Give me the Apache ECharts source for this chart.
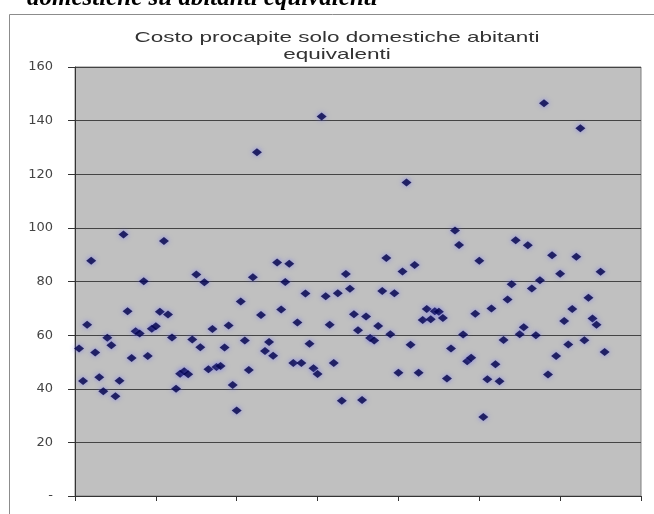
<!DOCTYPE html>
<html>
<head>
<meta charset="utf-8">
<script src="https://cdn.jsdelivr.net/npm/echarts@6/dist/echarts.min.js"></script>
<style>
  html, body { margin: 0; padding: 0; background: #fff; }
  #chart { width: 654px; height: 514px; }
</style>
</head>
<body>
<div id="chart"></div>
<script>
// costo procapite per abitante equivalente, one point per comune (x = progressive index)
const costo = [
  55.0, 42.9, 63.9, 87.7, 53.5, 44.3, 39.1, 59.0, 56.2, 37.2,
  43.0, 97.5, 68.9, 51.5, 61.4, 60.6, 80.1, 52.2, 62.4, 63.3,
  68.7, 95.1, 67.7, 59.1, 40.0, 45.6, 46.5, 45.4, 58.4, 82.6,
  55.5, 79.7, 47.3, 62.3, 48.1, 48.5, 55.4, 63.6, 41.4, 31.9,
  72.5, 58.0, 47.0, 81.6, 128.2, 67.5, 54.1, 57.4, 52.3, 87.1,
  69.6, 79.8, 86.6, 49.6, 64.7, 49.6, 75.5, 56.8, 47.6, 45.5,
  141.5, 74.5, 63.9, 49.6, 75.6, 35.5, 82.8, 77.3, 67.8, 61.8,
  35.8, 66.9, 58.9, 58.0, 63.4, 76.5, 88.8, 60.3, 75.6, 46.0,
  83.7, 116.9, 56.4, 86.2, 46.0, 65.6, 69.7, 65.9, 68.9, 68.7,
  66.4, 43.8, 55.0, 99.0, 93.6, 60.2, 50.3, 51.6, 68.0, 87.7,
  29.5, 43.5, 69.9, 49.1, 42.8, 58.2, 73.3, 79.0, 95.4, 60.3,
  62.9, 93.5, 77.4, 60.0, 80.5, 146.5, 45.3, 89.8, 52.2, 82.9,
  65.3, 56.5, 69.7, 89.2, 137.2, 58.1, 73.9, 66.2, 63.9, 83.6,
  53.7
];
const titleText = 'Costo procapite solo domestiche abitanti\nequivalenti';
const headingText = 'domestiche su abitanti equivalenti';

const points = costo.map((v, i) => [i + 1, v]);

const chart = echarts.init(document.getElementById('chart'));
chart.setOption({
  animation: false,
  backgroundColor: '#fff',
  graphic: [
    {
      type: 'rect',
      left: 7, top: 12,
      shape: { width: 700, height: 560 },
      style: { fill: 'none', stroke: '#8c8c8c', lineWidth: 1 },
      silent: true
    },
    {
      type: 'text',
      left: 27, top: -14,
      style: {
        text: headingText,
        font: 'italic bold 25px "Liberation Serif"',
        fill: '#000'
      },
      silent: true
    },
    {
      // the source picture is stretched sideways, so the title is too
      type: 'text',
      x: 337, y: 29,
      scaleX: 1.5,
      style: {
        text: titleText,
        font: '15px "Liberation Sans"',
        align: 'center',
        lineHeight: 17,
        fill: '#333'
      },
      silent: true
    }
  ],
  grid: {
    left: 75, right: 13, top: 67, bottom: 18,
    show: true,
    backgroundColor: '#c0c0c0',
    borderColor: '#808080',
    borderWidth: 1
  },
  xAxis: {
    type: 'value',
    min: 0, max: 140, interval: 20,
    axisLine: { lineStyle: { color: '#333' } },
    axisTick: { show: true, length: 5, lineStyle: { color: '#333' } },
    axisLabel: { show: false },
    splitLine: { show: false }
  },
  yAxis: {
    type: 'value',
    min: 0, max: 160, interval: 20,
    axisLine: { show: true, lineStyle: { color: '#333' } },
    axisTick: { show: true, length: 7, lineStyle: { color: '#333' } },
    axisLabel: {
      margin: 22,
      fontFamily: 'DejaVu Sans',
      fontSize: 13,
      color: '#444',
      formatter: (v) => (v === 0 ? '-' : v)
    },
    splitLine: { lineStyle: { color: '#444', width: 1 } }
  },
  series: [{
    type: 'scatter',
    data: points,
    symbol: 'diamond',
    symbolSize: [10, 8],
    itemStyle: {
      color: '#000048',
      shadowColor: 'rgba(100,100,255,0.8)',
      shadowBlur: 5
    }
  }]
});
</script>
</body>
</html>
